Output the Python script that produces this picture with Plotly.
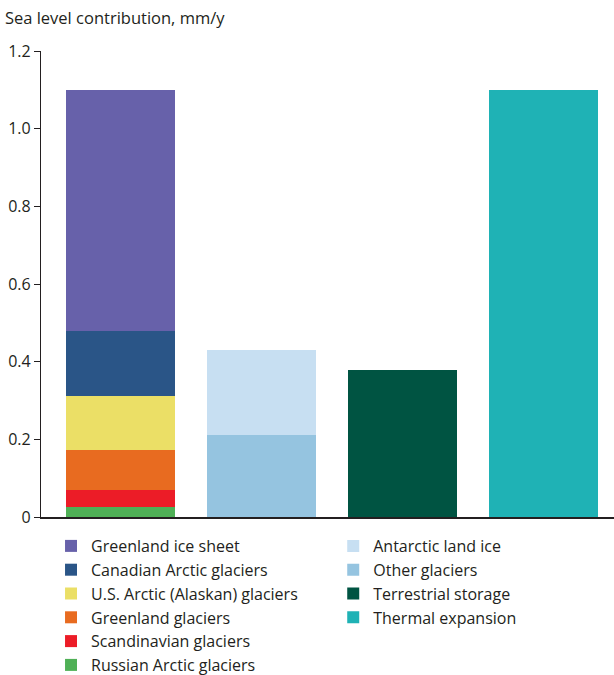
import plotly.graph_objects as go

# Sea level contribution by source, mm per year
bars = ["Arctic", "Antarctic and other glaciers", "Terrestrial", "Ocean"]

arctic_names = ["Russian Arctic glaciers", "Scandinavian glaciers", "Greenland glaciers",
                "U.S. Arctic (Alaskan) glaciers", "Canadian Arctic glaciers", "Greenland ice sheet"]
arctic_values = [0.025, 0.045, 0.103, 0.139, 0.168, 0.62]
arctic_colors = ["#4fb056", "#ec1c27", "#e86b20", "#ebdf66", "#2a5587", "#6761aa"]

other_names = ["Other glaciers", "Antarctic land ice"]
other_values = [0.212, 0.219]
other_colors = ["#95c4e0", "#c7dff2"]

terrestrial_value = 0.379
thermal_value = 1.10

y_ticks = [0, 0.2, 0.4, 0.6, 0.8, 1.0, 1.2]
y_tick_labels = ["0", "0.2", "0.4", "0.6", "0.8", "1.0", "1.2"]

TEXT = "#231f20"
FONT = "Open Sans"

fig = go.Figure()

# Stacked Arctic bar: bottom segment first; legend lists top segment first
n = len(arctic_names)
for i, (name, val, col) in enumerate(zip(arctic_names, arctic_values, arctic_colors)):
    fig.add_trace(go.Bar(x=[bars[0]], y=[val], name=name, marker_color=col,
                         marker_line_width=0, legend="legend", legendrank=n - i))

# Antarctic land ice over other glaciers
for i, (name, val, col) in enumerate(zip(other_names, other_values, other_colors)):
    fig.add_trace(go.Bar(x=[bars[1]], y=[val], name=name, marker_color=col,
                         marker_line_width=0, legend="legend2", legendrank=2 - i))

fig.add_trace(go.Bar(x=[bars[2]], y=[terrestrial_value], name="Terrestrial storage",
                     marker_color="#005442", marker_line_width=0,
                     legend="legend2", legendrank=3))
fig.add_trace(go.Bar(x=[bars[3]], y=[thermal_value], name="Thermal expansion",
                     marker_color="#1fb2b5", marker_line_width=0,
                     legend="legend2", legendrank=4))

legend_style = dict(
    font=dict(family=FONT, size=16, color=TEXT),
    bgcolor="rgba(0,0,0,0)",
    orientation="v",
    traceorder="normal",
    xanchor="left", yanchor="top",
    yref="container",
    itemclick=False, itemdoubleclick=False,
    tracegroupgap=0,
)

fig.update_layout(
    width=614, height=675,
    margin=dict(l=41, r=0, t=51, b=158),
    paper_bgcolor="white", plot_bgcolor="white",
    barmode="stack",
    bargap=0.227,
    font=dict(family=FONT, size=16, color=TEXT),
    title=dict(text="Sea level contribution, mm/y", x=0.008, xanchor="left",
               xref="container", y=1 - 18 / 675, yanchor="middle", yref="container",
               font=dict(family=FONT, size=16.5, color=TEXT)),
    legend=dict(x=0.0175, y=1 - 529 / 675, **legend_style),
    legend2=dict(x=0.51, y=1 - 529 / 675, **legend_style),
    xaxis=dict(
        type="category", categoryorder="array", categoryarray=bars,
        range=[-0.564, 3.5],
        showticklabels=False, ticks="",
        showline=True, linecolor=TEXT, linewidth=1.5,
        showgrid=False, zeroline=False, fixedrange=True,
    ),
    yaxis=dict(
        range=[0, 1.2],
        tickvals=y_ticks, ticktext=y_tick_labels,
        ticks="outside", ticklen=6, tickwidth=1.2, tickcolor=TEXT,
        showline=True, linecolor=TEXT, linewidth=1.2,
        showgrid=False, zeroline=False, fixedrange=True,
        tickfont=dict(family=FONT, size=16, color=TEXT),
    ),
)

fig.write_html("out.html")
